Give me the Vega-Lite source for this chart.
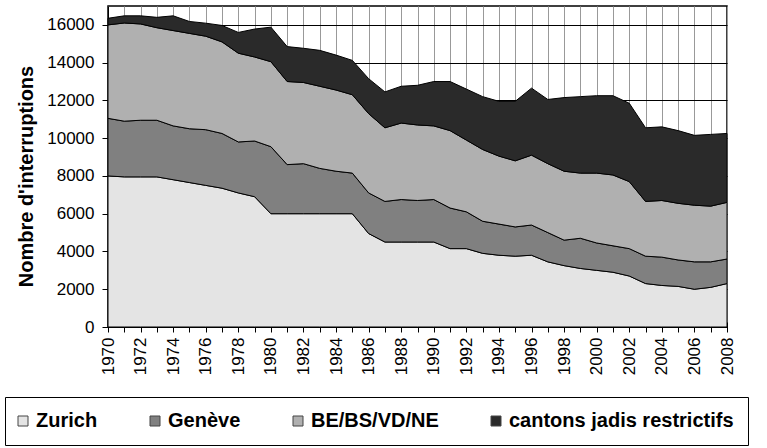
{
  "$schema": "https://vega.github.io/schema/vega-lite/v6.json",
  "width": 619,
  "height": 321,
  "autosize": {"type": "none"},
  "padding": {"left": 108, "top": 6, "right": 40, "bottom": 121},
  "background": "white",
  "config": {
    "font": "Liberation Sans",
    "view": {"stroke": "#000", "strokeWidth": 1.5},
    "axis": {"labelFont": "Liberation Sans", "titleFont": "Liberation Sans", "labelColor": "#000", "titleColor": "#000", "domainColor": "#000", "tickColor": "#000"}
  },
  "data": {
    "values": [
      {"year": 1970, "Zurich": 8000, "Genève": 3050, "BE/BS/VD/NE": 4950, "cantons jadis restrictifs": 350},
      {"year": 1971, "Zurich": 7950, "Genève": 2950, "BE/BS/VD/NE": 5200, "cantons jadis restrictifs": 380},
      {"year": 1972, "Zurich": 7950, "Genève": 3000, "BE/BS/VD/NE": 5100, "cantons jadis restrictifs": 430},
      {"year": 1973, "Zurich": 7950, "Genève": 3000, "BE/BS/VD/NE": 4900, "cantons jadis restrictifs": 550},
      {"year": 1974, "Zurich": 7800, "Genève": 2850, "BE/BS/VD/NE": 5050, "cantons jadis restrictifs": 780},
      {"year": 1975, "Zurich": 7650, "Genève": 2850, "BE/BS/VD/NE": 5050, "cantons jadis restrictifs": 630},
      {"year": 1976, "Zurich": 7500, "Genève": 2950, "BE/BS/VD/NE": 4950, "cantons jadis restrictifs": 690},
      {"year": 1977, "Zurich": 7350, "Genève": 2900, "BE/BS/VD/NE": 4850, "cantons jadis restrictifs": 870},
      {"year": 1978, "Zurich": 7100, "Genève": 2700, "BE/BS/VD/NE": 4700, "cantons jadis restrictifs": 1100},
      {"year": 1979, "Zurich": 6900, "Genève": 2950, "BE/BS/VD/NE": 4450, "cantons jadis restrictifs": 1480},
      {"year": 1980, "Zurich": 6000, "Genève": 3550, "BE/BS/VD/NE": 4500, "cantons jadis restrictifs": 1830},
      {"year": 1981, "Zurich": 6000, "Genève": 2600, "BE/BS/VD/NE": 4400, "cantons jadis restrictifs": 1850},
      {"year": 1982, "Zurich": 6000, "Genève": 2650, "BE/BS/VD/NE": 4300, "cantons jadis restrictifs": 1810},
      {"year": 1983, "Zurich": 6000, "Genève": 2400, "BE/BS/VD/NE": 4350, "cantons jadis restrictifs": 1900},
      {"year": 1984, "Zurich": 6000, "Genève": 2250, "BE/BS/VD/NE": 4300, "cantons jadis restrictifs": 1850},
      {"year": 1985, "Zurich": 6000, "Genève": 2150, "BE/BS/VD/NE": 4150, "cantons jadis restrictifs": 1820},
      {"year": 1986, "Zurich": 4950, "Genève": 2150, "BE/BS/VD/NE": 4200, "cantons jadis restrictifs": 1850},
      {"year": 1987, "Zurich": 4500, "Genève": 2150, "BE/BS/VD/NE": 3900, "cantons jadis restrictifs": 1900},
      {"year": 1988, "Zurich": 4500, "Genève": 2250, "BE/BS/VD/NE": 4050, "cantons jadis restrictifs": 1950},
      {"year": 1989, "Zurich": 4500, "Genève": 2200, "BE/BS/VD/NE": 4000, "cantons jadis restrictifs": 2100},
      {"year": 1990, "Zurich": 4500, "Genève": 2250, "BE/BS/VD/NE": 3900, "cantons jadis restrictifs": 2350},
      {"year": 1991, "Zurich": 4150, "Genève": 2150, "BE/BS/VD/NE": 4100, "cantons jadis restrictifs": 2600},
      {"year": 1992, "Zurich": 4150, "Genève": 1950, "BE/BS/VD/NE": 3800, "cantons jadis restrictifs": 2700},
      {"year": 1993, "Zurich": 3900, "Genève": 1700, "BE/BS/VD/NE": 3800, "cantons jadis restrictifs": 2800},
      {"year": 1994, "Zurich": 3800, "Genève": 1650, "BE/BS/VD/NE": 3600, "cantons jadis restrictifs": 2900},
      {"year": 1995, "Zurich": 3750, "Genève": 1550, "BE/BS/VD/NE": 3500, "cantons jadis restrictifs": 3150},
      {"year": 1996, "Zurich": 3800, "Genève": 1600, "BE/BS/VD/NE": 3700, "cantons jadis restrictifs": 3550},
      {"year": 1997, "Zurich": 3450, "Genève": 1550, "BE/BS/VD/NE": 3650, "cantons jadis restrictifs": 3400},
      {"year": 1998, "Zurich": 3250, "Genève": 1350, "BE/BS/VD/NE": 3650, "cantons jadis restrictifs": 3900},
      {"year": 1999, "Zurich": 3100, "Genève": 1600, "BE/BS/VD/NE": 3450, "cantons jadis restrictifs": 4050},
      {"year": 2000, "Zurich": 3000, "Genève": 1450, "BE/BS/VD/NE": 3700, "cantons jadis restrictifs": 4100},
      {"year": 2001, "Zurich": 2900, "Genève": 1400, "BE/BS/VD/NE": 3750, "cantons jadis restrictifs": 4200},
      {"year": 2002, "Zurich": 2700, "Genève": 1450, "BE/BS/VD/NE": 3550, "cantons jadis restrictifs": 4150},
      {"year": 2003, "Zurich": 2300, "Genève": 1450, "BE/BS/VD/NE": 2900, "cantons jadis restrictifs": 3900},
      {"year": 2004, "Zurich": 2200, "Genève": 1500, "BE/BS/VD/NE": 3000, "cantons jadis restrictifs": 3900},
      {"year": 2005, "Zurich": 2150, "Genève": 1400, "BE/BS/VD/NE": 3000, "cantons jadis restrictifs": 3850},
      {"year": 2006, "Zurich": 2000, "Genève": 1450, "BE/BS/VD/NE": 3000, "cantons jadis restrictifs": 3700},
      {"year": 2007, "Zurich": 2100, "Genève": 1350, "BE/BS/VD/NE": 2950, "cantons jadis restrictifs": 3800},
      {"year": 2008, "Zurich": 2300, "Genève": 1300, "BE/BS/VD/NE": 3000, "cantons jadis restrictifs": 3650}
    ]
  },
  "transform": [
    {"fold": ["Zurich", "Genève", "BE/BS/VD/NE", "cantons jadis restrictifs"], "as": ["serie", "valeur"]},
    {"window": [{"op": "row_number", "as": "rang"}], "groupby": ["year"]}
  ],
  "mark": {"type": "area", "stroke": "#000", "strokeWidth": 1, "opacity": 1},
  "encoding": {
    "x": {
      "field": "year", "type": "quantitative",
      "scale": {"domain": [1970, 2008], "nice": false, "zero": false},
      "axis": {
        "title": null,
        "values": [1970,1971,1972,1973,1974,1975,1976,1977,1978,1979,1980,1981,1982,1983,1984,1985,1986,1987,1988,1989,1990,1991,1992,1993,1994,1995,1996,1997,1998,1999,2000,2001,2002,2003,2004,2005,2006,2007,2008],
        "format": "d",
        "labelExpr": "datum.value % 2 === 0 ? datum.label : ''",
        "labelAngle": -90, "labelAlign": "right", "labelBaseline": "middle",
        "labelFontSize": 17, "labelPadding": 5, "labelOverlap": false, "labelFlush": false,
        "tickSize": 10, "offset": -5, "domain": false,
        "grid": true, "gridColor": "#999", "gridWidth": 1
      }
    },
    "y": {
      "field": "valeur", "type": "quantitative", "stack": "zero",
      "scale": {"domain": [0, 17000], "nice": false},
      "axis": {
        "title": "Nombre d'interruptions", "titleFontSize": 20, "titleFontWeight": "bold", "titlePadding": 10, "titleY": 170,
        "values": [0,2000,4000,6000,8000,10000,12000,14000,16000],
        "format": "d", "labelFontSize": 17, "labelPadding": 8, "tickSize": 6,
        "grid": true, "gridColor": "#000", "gridWidth": 1
      }
    },
    "order": {"field": "rang", "type": "quantitative"},
    "color": {
      "field": "serie", "type": "nominal",
      "sort": ["Zurich", "Genève", "BE/BS/VD/NE", "cantons jadis restrictifs"],
      "scale": {
        "domain": ["Zurich", "Genève", "BE/BS/VD/NE", "cantons jadis restrictifs"],
        "range": ["#e4e4e4", "#808080", "#b0b0b0", "#2a2a2a"]
      },
      "legend": {
        "orient": "none", "legendX": -103, "legendY": 391, "direction": "horizontal",
        "title": null, "labelFontSize": 20, "labelFontWeight": "bold", "labelFont": "Liberation Sans", "labelColor": "#000", "labelLimit": 400,
        "symbolType": "square", "symbolSize": 100, "symbolStrokeColor": "#444", "symbolStrokeWidth": 1, "symbolOpacity": 1,
        "strokeColor": "#000", "fillColor": "white", "padding": 14, "columnPadding": 50, "labelOffset": 3, "symbolOffset": -6
      }
    }
  }
}
